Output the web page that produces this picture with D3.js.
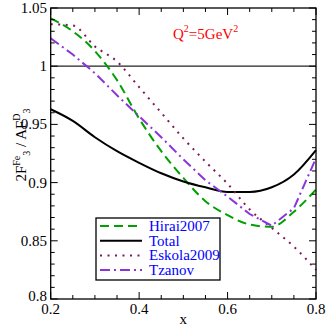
<!DOCTYPE html>
<html lang="en">
<head>
<meta charset="utf-8">
<style>
  body { margin: 0; background: #fff; }
</style>
</head>
<body>
<script src="https://d3js.org/d3.v7.min.js"></script>
<svg id="chart" width="327" height="327" font-family="'Liberation Serif', 'Times New Roman', 'DejaVu Serif', serif"></svg>
<script>
// data
var xs = [0.2, 0.25, 0.3, 0.35, 0.4, 0.45, 0.5, 0.55, 0.6, 0.65, 0.7, 0.75, 0.8];
var hirai  = [1.041, 1.030, 1.013, 0.988, 0.955, 0.927, 0.904, 0.884, 0.872, 0.864, 0.862, 0.875, 0.894];
var total  = [0.963, 0.953, 0.939, 0.927, 0.917, 0.908, 0.901, 0.896, 0.892, 0.892, 0.896, 0.907, 0.928];
var eskola = [1.036, 1.035, 1.017, 1.004, 0.982, 0.960, 0.938, 0.918, 0.899, 0.877, 0.861, 0.845, 0.825];
var tzanov = [1.024, 1.010, 0.994, 0.975, 0.957, 0.939, 0.920, 0.902, 0.888, 0.873, 0.863, 0.878, 0.921];

var xTickLabels = [0.2, 0.4, 0.6, 0.8];
var yTickLabels = [0.8, 0.85, 0.9, 0.95, 1, 1.05];
var names = ["Hirai2007", "Total", "Eskola2009", "Tzanov"];

var svg = d3.select("#chart");
var serif = "'Liberation Serif', 'Times New Roman', 'DejaVu Serif', serif";

var x = d3.scaleLinear().domain([0.2, 0.8]).range([50.7, 316]);
var y = d3.scaleLinear().domain([0.8, 1.05]).range([299, 8]);

// series styles
var series = [
    { name: names[0], vals: hirai,  color: "#00a000", dash: "9,5",      curve: d3.curveMonotoneX },
    { name: names[1], vals: total,  color: "#000000", dash: null,       curve: d3.curveMonotoneX },
    { name: names[2], vals: eskola, color: "#7a1a5a", dash: "2,5.5",    curve: d3.curveMonotoneX },
    { name: names[3], vals: tzanov, color: "#8a35dc", dash: "10,4,2,4", curve: d3.curveLinear }
];

// reference line at 1
svg.append("line")
    .attr("x1", x(0.2)).attr("x2", x(0.8))
    .attr("y1", y(1)).attr("y2", y(1))
    .style("stroke", "#222").style("stroke-width", 1.3)

// curves
var plot = svg.append("g")
series.forEach(function (s) {
    var line = d3.line()
        .x(function (d, i) { return x(xs[i]) })
        .y(function (d) { return y(d) })
        .curve(s.curve)
    plot.append("path")
        .attr("d", line(s.vals))
        .style("fill", "none")
        .style("stroke", s.color)
        .style("stroke-width", 2)
        .style("stroke-dasharray", s.dash)
})

// frame
svg.append("rect")
    .attr("x", x(0.2)).attr("y", y(1.05))
    .attr("width", x(0.8) - x(0.2)).attr("height", y(0.8) - y(1.05))
    .style("fill", "none").style("stroke", "#000").style("stroke-width", 1.3)

// ticks (inward, all four sides)
var ticks = svg.append("g").style("stroke", "#000").style("stroke-width", 1)
d3.range(0.2, 0.8001, 0.05).forEach(function (v) {
    var major = Math.abs(Math.round(v * 10) % 2) == 0 && Math.abs(v * 10 - Math.round(v * 10)) < 1e-6;
    var len = major ? 7 : 4;
    ticks.append("line").attr("x1", x(v)).attr("x2", x(v)).attr("y1", y(0.8)).attr("y2", y(0.8) - len)
    ticks.append("line").attr("x1", x(v)).attr("x2", x(v)).attr("y1", y(1.05)).attr("y2", y(1.05) + len)
})
d3.range(0.8, 1.0501, 0.01).forEach(function (v) {
    var major = Math.abs(v * 20 - Math.round(v * 20)) < 1e-6;
    var len = major ? 7 : 4;
    ticks.append("line").attr("y1", y(v)).attr("y2", y(v)).attr("x1", x(0.2)).attr("x2", x(0.2) + len)
    ticks.append("line").attr("y1", y(v)).attr("y2", y(v)).attr("x1", x(0.8)).attr("x2", x(0.8) - len)
})

// tick labels
svg.selectAll(".xl").data(xTickLabels).enter().append("text")
    .attr("x", function (d) { return x(d) })
    .attr("y", 314)
    .attr("text-anchor", "middle")
    .style("font-family", serif)
    .style("font-size", "15px")
    .text(function (d) { return d })
svg.selectAll(".yl").data(yTickLabels).enter().append("text")
    .attr("x", 47)
    .attr("y", function (d) { return d == 0.8 ? y(d) + 2 : y(d) + 5 })
    .attr("text-anchor", "end")
    .style("font-family", serif)
    .style("font-size", "15px")
    .text(function (d) { return d })

// axis titles
svg.append("text").attr("x", x(0.5)).attr("y", 324).attr("text-anchor", "middle")
    .style("font-family", serif).style("font-size", "15px").text("x")

var yt = svg.append("text")
    .attr("transform", "translate(26,145) rotate(-90)")
    .attr("text-anchor", "middle")
    .style("font-family", serif)
    .style("font-size", "15px")
yt.append("tspan").text("2F")
yt.append("tspan").attr("dy", -6).style("font-size", "10px").text("Fe")
yt.append("tspan").attr("dy", 10).style("font-size", "10px").text("3")
yt.append("tspan").attr("dy", -4).text(" / AF")
yt.append("tspan").attr("dy", -6).style("font-size", "10px").text("D")
yt.append("tspan").attr("dy", 10).style("font-size", "10px").text("3")

// Q^2 label
var q = svg.append("text").attr("x", 173).attr("y", 39)
    .style("font-family", serif).style("font-size", "15px").style("fill", "#ff0000")
q.append("tspan").text("Q")
q.append("tspan").attr("dy", -7).style("font-size", "10px").text("2")
q.append("tspan").attr("dy", 7).text("=5GeV")
q.append("tspan").attr("dy", -7).style("font-size", "10px").text("2")

// legend
var lg = svg.append("g")
lg.append("rect").attr("x", 96).attr("y", 218).attr("width", 124).attr("height", 62)
    .style("fill", "#fff").style("stroke", "#000").style("stroke-width", 1.3)
series.forEach(function (s, i) {
    var ly = 226 + i * 14.7;
    lg.append("line").attr("x1", 100).attr("x2", 142).attr("y1", ly).attr("y2", ly)
        .style("stroke", s.color).style("stroke-width", 2).style("stroke-dasharray", s.dash)
    lg.append("text").attr("x", 149).attr("y", ly + 5)
        .style("font-family", serif)
        .style("font-size", "15px").style("fill", "#0000ff")
        .text(s.name)
})
</script>
</body>
</html>
